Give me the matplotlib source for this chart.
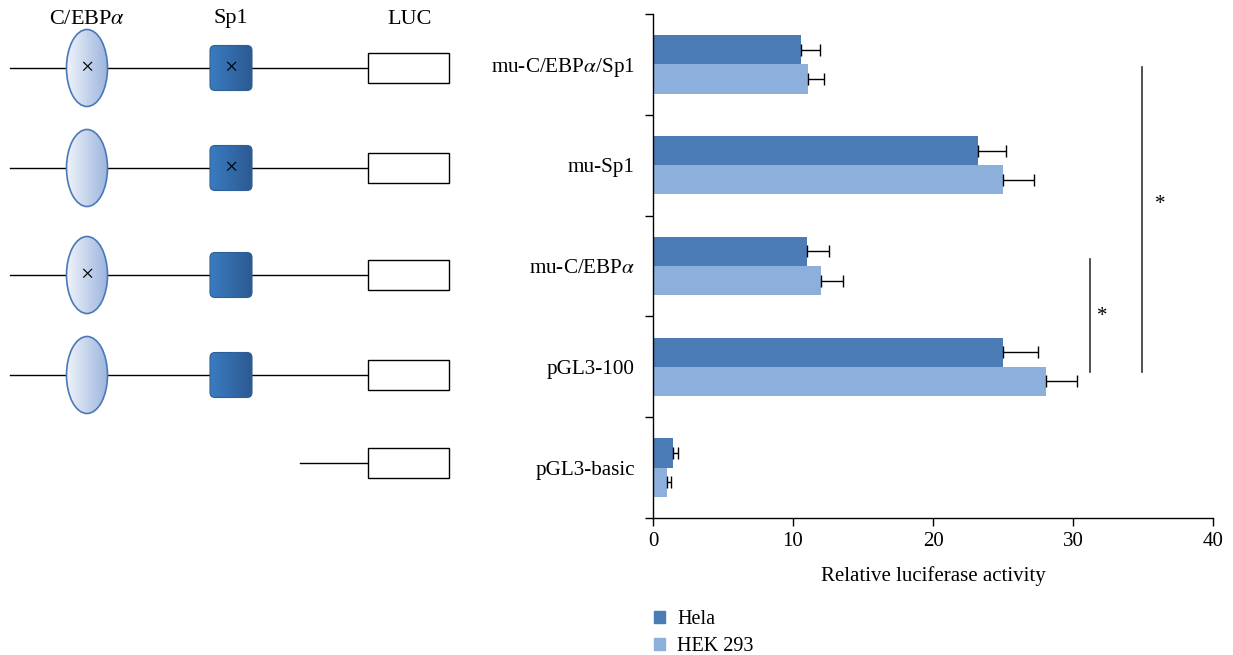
import numpy as np
import matplotlib
matplotlib.use("Agg")
import matplotlib.pyplot as plt
from matplotlib.patches import Ellipse, FancyBboxPatch, Rectangle
from matplotlib.colors import LinearSegmentedColormap

plt.rcParams['font.family'] = ['Liberation Serif', 'DejaVu Serif']
plt.rcParams['mathtext.fontset'] = 'stix'

# ---- data ----
categories = ["mu-C/EBP$\\alpha$/Sp1", "mu-Sp1", "mu-C/EBP$\\alpha$", "pGL3-100", "pGL3-basic"]
hela = [10.6, 23.2, 11.0, 25.0, 1.4]
hela_err = [1.3, 2.0, 1.6, 2.5, 0.4]
hek = [11.1, 25.0, 12.0, 28.1, 1.0]
hek_err = [1.1, 2.2, 1.6, 2.2, 0.3]
series_names = ["Hela", "HEK 293"]
xticks = [0, 10, 20, 30, 40]
# construct mutation flags per row (C/EBPa mutated, Sp1 mutated)
cebp_mut = [True, False, True, False]
sp1_mut = [True, True, False, False]

c_hela = "#4b7cb5"
c_hek = "#8dafdc"

W, H = 1233, 655
fig = plt.figure(figsize=(W / 100, H / 100), dpi=100)

# ---- bar chart ----
ax = fig.add_axes([653 / W, 1 - 518 / H, 560 / W, 504 / H])
n = len(categories)
ypos = np.arange(n)
bh = 0.29
ax.barh(ypos - bh / 2, hela, height=bh, color=c_hela, label=series_names[0], zorder=2)
ax.barh(ypos + bh / 2, hek, height=bh, color=c_hek, label=series_names[1], zorder=2)
ax.errorbar(hela, ypos - bh / 2, xerr=[np.zeros(n), hela_err], fmt='none',
            ecolor='black', elinewidth=1, capsize=4, capthick=1, zorder=3)
ax.errorbar(hek, ypos + bh / 2, xerr=[np.zeros(n), hek_err], fmt='none',
            ecolor='black', elinewidth=1, capsize=4, capthick=1, zorder=3)
ax.set_ylim(n - 0.5, -0.5)
ax.set_xlim(0, 40)
ax.set_xticks(xticks)
ax.set_yticks(ypos)
ax.set_yticklabels(categories)
ax.set_yticks(np.arange(-0.5, n, 1.0), minor=True)
ax.tick_params(axis='y', which='major', length=0, pad=13, labelsize=15.2)
ax.tick_params(axis='y', which='minor', length=6, direction='out', width=1)
ax.tick_params(axis='x', length=6, direction='out', labelsize=15, pad=4, width=1)
for s in ['top', 'right']:
    ax.spines[s].set_visible(False)
for s in ['left', 'bottom']:
    ax.spines[s].set_linewidth(1)
ax.set_xlabel("Relative luciferase activity", fontsize=15, labelpad=11)

# significance annotations
ax.plot([31.2, 31.2], [2 - 0.07, 3 + 0.05], color='#333333', lw=1.2, clip_on=False)
ax.text(32.1, 2.5, "*", fontsize=15, ha='center', va='center')
ax.plot([34.9, 34.9], [0.03, 3 + 0.05], color='#333333', lw=1.2, clip_on=False)
ax.text(36.2, 1.39, "*", fontsize=15, ha='center', va='center')

# legend
handles = [Rectangle((0, 0), 1, 1, color=c_hela), Rectangle((0, 0), 1, 1, color=c_hek)]
fig.legend(handles, series_names, loc='upper left', bbox_to_anchor=(646 / W, 1 - 602 / H),
           frameon=False, fontsize=14.5, handlelength=0.55, handleheight=0.55,
           handletextpad=0.6, labelspacing=0.4, borderaxespad=0)

# ---- construct diagram ----
dax = fig.add_axes([0, 0, 470 / W, 1])
dax.set_xlim(0, 470)
dax.set_ylim(H, 0)
dax.axis('off')

row_y = [68, 168, 275, 375]
grad = np.linspace(0, 1, 64).reshape(1, -1)
cm_ell = LinearSegmentedColormap.from_list("e", ["#eef2fa", "#9cb5dd"])
cm_sq = LinearSegmentedColormap.from_list("s", ["#3a7cc1", "#2c5a92"])

for i, y in enumerate(row_y):
    dax.plot([10, 368], [y, y], color='black', lw=1, zorder=1)
    ex, ew, eh = 87, 41, 77
    ell = Ellipse((ex, y), ew, eh, facecolor='none', edgecolor='#4a78b8', lw=1.2, zorder=4)
    dax.add_patch(ell)
    im = dax.imshow(grad, cmap=cm_ell, extent=[ex - ew / 2, ex + ew / 2, y + eh / 2, y - eh / 2],
                    aspect='auto', zorder=3, interpolation='bilinear')
    im.set_clip_path(ell)
    sx, sw, sh = 231, 42, 45
    sq = FancyBboxPatch((sx - sw / 2 + 5, y - sh / 2 + 5), sw - 10, sh - 10,
                        boxstyle="round,pad=5", facecolor='none', edgecolor='#2f5f98', lw=0.8, zorder=4)
    dax.add_patch(sq)
    im2 = dax.imshow(grad, cmap=cm_sq, extent=[sx - sw / 2, sx + sw / 2, y + sh / 2, y - sh / 2],
                     aspect='auto', zorder=3, interpolation='bilinear')
    im2.set_clip_path(sq)
    if cebp_mut[i]:
        dax.text(ex, y + 1, "×", fontsize=17, ha='center', va='center', zorder=5)
    if sp1_mut[i]:
        dax.text(sx, y + 1, "×", fontsize=17, ha='center', va='center', zorder=5)
    dax.add_patch(Rectangle((368, y - 15), 81, 30, facecolor='white', edgecolor='black', lw=1, zorder=4))

yb = 463
dax.plot([300, 368], [yb, yb], color='black', lw=1, zorder=1)
dax.add_patch(Rectangle((368, yb - 15), 81, 30, facecolor='white', edgecolor='black', lw=1, zorder=4))

dax.text(87, 19, "C/EBP$\\alpha$", fontsize=16, ha='center', va='center')
dax.text(231, 19, "Sp1", fontsize=16, ha='center', va='center')
dax.text(410, 19, "LUC", fontsize=16, ha='center', va='center')

fig.savefig("out.png", dpi=100)
